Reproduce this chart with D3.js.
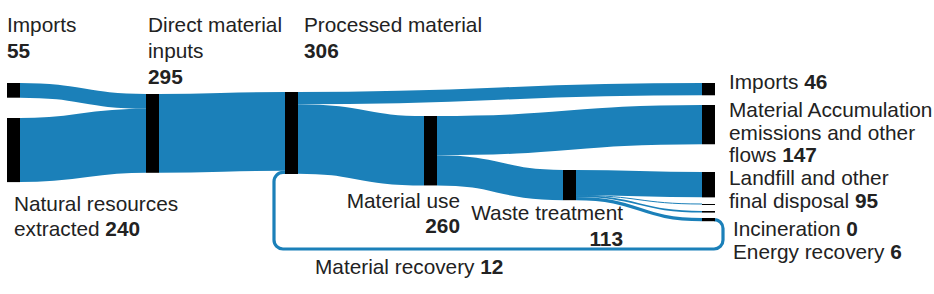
<!DOCTYPE html>
<html>
<head>
<meta charset="utf-8">
<script src="https://cdn.jsdelivr.net/npm/d3@7"></script>
<style>
  body { margin: 0; background: #fff; }
  svg text { font-family: "Liberation Sans", Arial, sans-serif; font-size: 20.8px; fill: #222; white-space: pre; }
</style>
</head>
<body>
<svg id="chart" width="934" height="294"></svg>
<script>
// ---- data ----
const nodeNames = ["Imports", "Natural resources extracted", "Direct material inputs", "Processed material",
  "Material use", "Waste treatment", "Imports (out)", "Material Accumulation emissions and other flows",
  "Landfill and other final disposal", "Incineration", "Energy recovery", "Material recovery"];
const nodeCols = [0, 0, 1, 2, 3, 4, 5, 5, 5, 5, 5, 5];
const nodeValues = [55, 240, 295, 306, 260, 113, 46, 147, 95, 0, 6, 12];

const linkSource = [0, 1, 2, 3, 3, 4, 4, 5, 5, 5, 5, 11];
const linkTarget = [2, 2, 3, 6, 4, 7, 5, 8, 9, 10, 11, 3];
const linkValues = [55, 240, 295, 46, 260, 147, 113, 95, 0, 6, 12, 12];

// label text per node: [normal, bold] per line
const labelLines = {
  0: [["Imports", ""], ["", "55"]],
  1: [["Natural resources", ""], ["extracted ", "240"]],
  2: [["Direct material", ""], ["inputs", ""], ["", "295"]],
  3: [["Processed material", ""], ["", "306"]],
  4: [["Material use", ""], ["", "260"]],
  5: [["Waste treatment", ""], ["", "113"]],
  6: [["Imports ", "46"]],
  7: [["Material Accumulation", ""], ["emissions and other", ""], ["flows ", "147"]],
  8: [["Landfill and other", ""], ["final disposal ", "95"]],
  9: [["Incineration ", "0"]],
  10: [["Energy recovery ", "6"]],
  11: [["Material recovery ", "12"]]
};

// ---- layout ----
const nodeWidth = 13;
const blue = "#1b80b9";
const nodeTop = [83, 118, 94, 92, 116, 170, 83, 105, 172, 204, 211, 218];
// label placement: x, first baseline, line height, anchor
const labelPos = {
  0: {x: 7, y: 32, lh: 26},
  1: {x: 14, y: 211, lh: 25},
  2: {x: 148, y: 32, lh: 26},
  3: {x: 304, y: 32, lh: 26},
  4: {x: 460, y: 208, lh: 25, anchor: "end"},
  5: {x: 623, y: 220, lh: 26, anchor: "end"},
  6: {x: 729, y: 89, lh: 22},
  7: {x: 729, y: 117, lh: 22.5},
  8: {x: 729, y: 185, lh: 22.5},
  9: {x: 733, y: 236, lh: 22},
  10: {x: 733, y: 259, lh: 22},
  11: {x: 315, y: 274, lh: 22}
};

const svg = d3.select("#chart");
const xCol = d3.scaleLinear().domain([0, 5]).range([7, 702]);
const k = d3.scaleLinear().domain([0, 307]).range([0, 82]);

const nodes = nodeNames.map((name, i) => ({
  index: i, name: name, col: nodeCols[i], value: nodeValues[i],
  sourceLinks: [], targetLinks: []
}));
const links = linkValues.map((v, i) => ({
  source: nodes[linkSource[i]], target: nodes[linkTarget[i]], value: v, width: k(v)
}));
links.forEach(l => { l.source.sourceLinks.push(l); l.target.targetLinks.push(l); });

nodes.forEach((n, i) => {
  n.x0 = xCol(n.col);
  n.x1 = n.x0 + nodeWidth;
  const h = Math.max(d3.sum(n.sourceLinks, l => l.value), d3.sum(n.targetLinks, l => l.value));
  n.y0 = nodeTop[i];
  n.y1 = n.y0 + Math.max(k(h), 1);
  let sy = n.y0;
  n.sourceLinks.forEach(l => { l.y0 = sy + l.width / 2; sy += l.width; });
  let ty = n.y0;
  n.targetLinks.forEach(l => { l.y1 = ty + l.width / 2; ty += l.width; });
});

const loopLink = links[links.length - 1];
const normalLinks = links.slice(0, links.length - 1);

const linkGen = d3.linkHorizontal()
  .source(d => [d.source.x1, d.y0])
  .target(d => [d.target.x0, d.y1]);

svg.append("g")
  .attr("fill", "none")
  .attr("stroke", blue)
  .selectAll("path")
  .data(normalLinks)
  .join("path")
  .attr("d", linkGen)
  .attr("stroke-width", d => Math.max(d.width, 1));

// circular link: material recovery back to processed material
function loopPath(l) {
  const sx = l.source.x1, sy = l.y0;
  const tx = l.target.x0, ty = l.y1;
  const right = sx + 8, left = tx - 11, bottom = 249, r = 9;
  const p = d3.path();
  p.moveTo(sx, sy);
  p.arcTo(right, sy, right, bottom, r);
  p.arcTo(right, bottom, left, bottom, r);
  p.arcTo(left, bottom, left, ty, r);
  p.arcTo(left, ty, tx, ty, r);
  p.lineTo(tx, ty);
  return p.toString();
}
svg.append("path")
  .attr("d", loopPath(loopLink))
  .attr("fill", "none")
  .attr("stroke", blue)
  .attr("stroke-width", loopLink.width);

svg.append("g")
  .selectAll("rect")
  .data(nodes)
  .join("rect")
  .attr("x", d => d.x0)
  .attr("y", d => d.y0)
  .attr("width", d => d.x1 - d.x0)
  .attr("height", d => d.y1 - d.y0)
  .attr("fill", "#000");

const labels = svg.append("g")
  .selectAll("text")
  .data(nodes)
  .join("text")
  .attr("text-anchor", d => labelPos[d.index].anchor || "start");

labels.each(function (d) {
  const pos = labelPos[d.index];
  const t = d3.select(this);
  labelLines[d.index].forEach((line, j) => {
    const y = pos.y + j * pos.lh;
    if (line[0]) t.append("tspan").attr("x", pos.x).attr("y", y).text(line[0]);
    const b = t.append("tspan").attr("font-weight", "bold").text(line[1]);
    if (!line[0]) b.attr("x", pos.x).attr("y", y);
  });
});
</script>
</body>
</html>
